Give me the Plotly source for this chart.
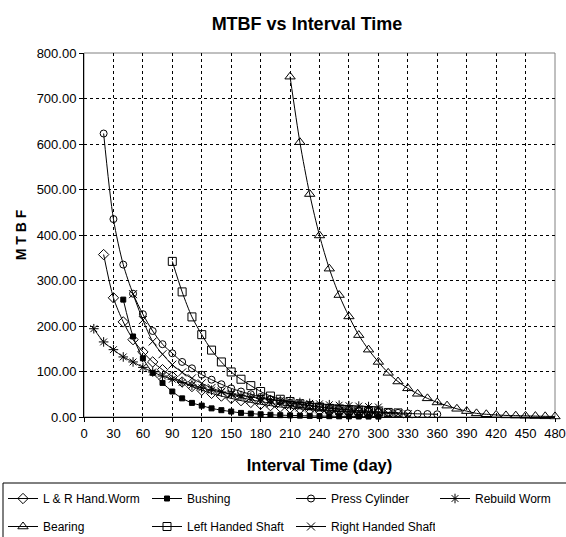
import plotly.graph_objects as go

# ---------------- data ----------------
lr_x = [20, 30, 40, 50, 60, 70, 80, 90, 100, 110, 120, 130, 140, 150, 160, 170, 180, 190, 200,
        210, 220, 230, 240, 250, 260, 270, 280, 290, 300]
lr_y = [357, 262, 209, 170, 143, 121, 104, 89, 77, 67, 59, 52, 46, 41, 36, 32, 28, 25, 22,
        20, 18, 16, 14.5, 13, 12, 11, 10, 9, 8.5]

bush_x = [40, 50, 60, 70, 80, 90, 100, 110, 120, 130, 140, 150, 160, 170, 180, 190, 200,
          210, 220, 230, 240, 250, 260, 270, 280, 290, 300]
bush_y = [258, 177, 129, 97, 75, 56, 41, 31, 25, 19, 15, 12, 9, 7.5, 6, 5, 4,
          3.5, 3, 2.5, 2, 1.8, 1.5, 1.3, 1.1, 1.0, 0.9]

press_x = [20, 30, 40, 50, 60, 70, 80, 90, 100, 110, 120, 130, 140, 150, 160, 170, 180, 190, 200,
           210, 220, 230, 240, 250, 260, 270, 280, 290, 300, 310, 320, 330, 340, 350, 360]
press_y = [623, 435, 335, 271, 226, 189, 160, 140, 121, 107, 93, 82, 72, 63, 56, 50, 44, 39, 35,
           31, 28, 25, 22, 20, 18, 16, 14, 13, 11, 10, 9, 8, 7, 6.5, 6]

rebuild_x = [10, 20, 30, 40, 50, 60, 70, 80, 90, 100, 110, 120, 130, 140, 150, 160, 170, 180, 190,
             200, 210, 220, 230, 240, 250, 260, 270, 280, 290, 300]
rebuild_y = [194, 165, 148, 132, 121, 109, 99, 90, 83, 76, 70, 64, 59, 55, 51, 47, 44, 41, 38,
             36, 34, 32, 30, 29, 27, 26, 25, 24, 23, 22]

bearing_x = [210, 220, 230, 240, 250, 260, 270, 280, 290, 300, 310, 320, 330, 340, 350, 360, 370,
             380, 390, 400, 410, 420, 430, 440, 450, 460, 470, 480]
bearing_y = [748, 604, 490, 399, 326, 268, 221, 180, 148, 121, 97, 78, 63, 51, 41, 32, 25,
             18, 13, 8, 6, 4.5, 3.5, 3, 2.5, 2, 1.5, 1.2]

left_x = [90, 100, 110, 120, 130, 140, 150, 160, 170, 180, 190, 200, 210, 220, 230, 240, 250,
          260, 270, 280, 290, 300, 310, 320]
left_y = [342, 275, 220, 181, 147, 121, 99, 83, 69, 56, 46, 39, 34, 29, 25, 22, 19,
          17, 15, 13, 12, 11, 10, 9]

right_x = [50, 60, 70, 80, 90, 100, 110, 120, 130, 140, 150, 160, 170, 180, 190, 200, 210, 220,
           230, 240, 250, 260, 270, 280, 290, 300, 310, 320, 330]
right_y = [270, 213, 166, 138, 115, 98, 85, 74, 64, 56, 49, 43, 38, 34, 30, 27, 24, 21,
           19, 17, 15, 13.5, 12, 11, 10, 9, 8, 7, 6]

x_ticks = [0, 30, 60, 90, 120, 150, 180, 210, 240, 270, 300, 330, 360, 390, 420, 450, 480]
y_ticks = [0, 100, 200, 300, 400, 500, 600, 700, 800]

# ---------------- figure ----------------
REG = "Liberation Sans, Arial, sans-serif"

series = [
    ("L & R Hand.Worm", lr_x, lr_y, "diamond-open", 8, "legend", None),
    ("Bushing", bush_x, bush_y, "square", 5, "legend", None),
    ("Press Cylinder", press_x, press_y, "circle-open", 7, "legend", None),
    ("Rebuild Worm", rebuild_x, rebuild_y, "asterisk-open", 8, "legend", 80),
    ("Bearing", bearing_x, bearing_y, "triangle-up-open", 9, "legend2", None),
    ("Left Handed Shaft", left_x, left_y, "square-open", 8, "legend2", None),
    ("Right Handed Shaft", right_x, right_y, "x-thin-open", 8, "legend2", None),
]

fig = go.Figure()
for name, xs, ys, sym, size, leg, lw in series:
    kw = dict(legendwidth=lw) if lw else {}
    fig.add_trace(go.Scatter(
        x=xs, y=ys, name=name, mode="lines+markers",
        line=dict(color="black", width=1, shape="spline", smoothing=0.8),
        marker=dict(symbol=sym, size=size, color="black",
                    line=dict(color="black", width=1)),
        cliponaxis=False, legend=leg, **kw))

W, H = 566, 537
L, R, T, B = 84, 11, 53, 120
pw, ph = W - L - R, H - T - B

def px_x(p):
    return (p - L) / pw

def px_y(p):
    return (H - B - p) / ph

fig.update_layout(
    width=W, height=H,
    margin=dict(l=L, r=R, t=T, b=B, autoexpand=False),
    paper_bgcolor="white", plot_bgcolor="white",
    title=dict(text="<b>MTBF vs Interval Time</b>",
               font=dict(family=REG, size=18, color="black"),
               x=307 / W, xanchor="center", xref="container",
               y=1 - 24 / H, yanchor="middle", yref="container"),
    xaxis=dict(range=[0, 480], tickvals=x_ticks, ticktext=[str(v) for v in x_ticks],
               showgrid=True, gridcolor="black", griddash="3px,3px", gridwidth=1,
               showline=True, linecolor="black", linewidth=1,
               ticks="outside", ticklen=4, tickcolor="black",
               tickfont=dict(family=REG, size=13, color="black"),
               zeroline=False,
               title=dict(text="<b>Interval Time (day)</b>",
                          font=dict(family=REG, size=16.5, color="black"),
                          standoff=19)),
    yaxis=dict(range=[0, 800], tickvals=y_ticks, ticktext=[f"{v:.2f}" for v in y_ticks],
               showgrid=True, gridcolor="black", griddash="3px,3px", gridwidth=1,
               showline=True, linecolor="black", linewidth=1,
               ticks="outside", ticklen=4, tickcolor="black",
               tickfont=dict(family=REG, size=13, color="black"),
               zeroline=False,
               title=dict(text="<b>M T B F</b>",
                          font=dict(family=REG, size=14, color="black"),
                          standoff=6)),
    legend=dict(orientation="h", x=px_x(3), y=px_y(484), xanchor="left", yanchor="top",
                entrywidth=99, entrywidthmode="pixels", traceorder="normal",
                font=dict(family=REG, size=12, color="black"),
                bgcolor="rgba(0,0,0,0)", borderwidth=0),
    legend2=dict(orientation="h", x=px_x(3), y=px_y(512), xanchor="left", yanchor="top",
                 entrywidth=99, entrywidthmode="pixels", traceorder="normal",
                 font=dict(family=REG, size=12, color="black"),
                 bgcolor="rgba(0,0,0,0)", borderwidth=0),
    shapes=[
        dict(type="rect", xref="paper", yref="paper", x0=0, x1=1, y0=0, y1=1,
             line=dict(color="#808080", width=1), layer="between"),
        dict(type="rect", xref="paper", yref="paper",
             x0=px_x(3), x1=px_x(580), y0=px_y(483), y1=px_y(560),
             line=dict(color="black", width=1), fillcolor="rgba(0,0,0,0)", layer="above"),
    ],
)

fig.write_html("out.html")
